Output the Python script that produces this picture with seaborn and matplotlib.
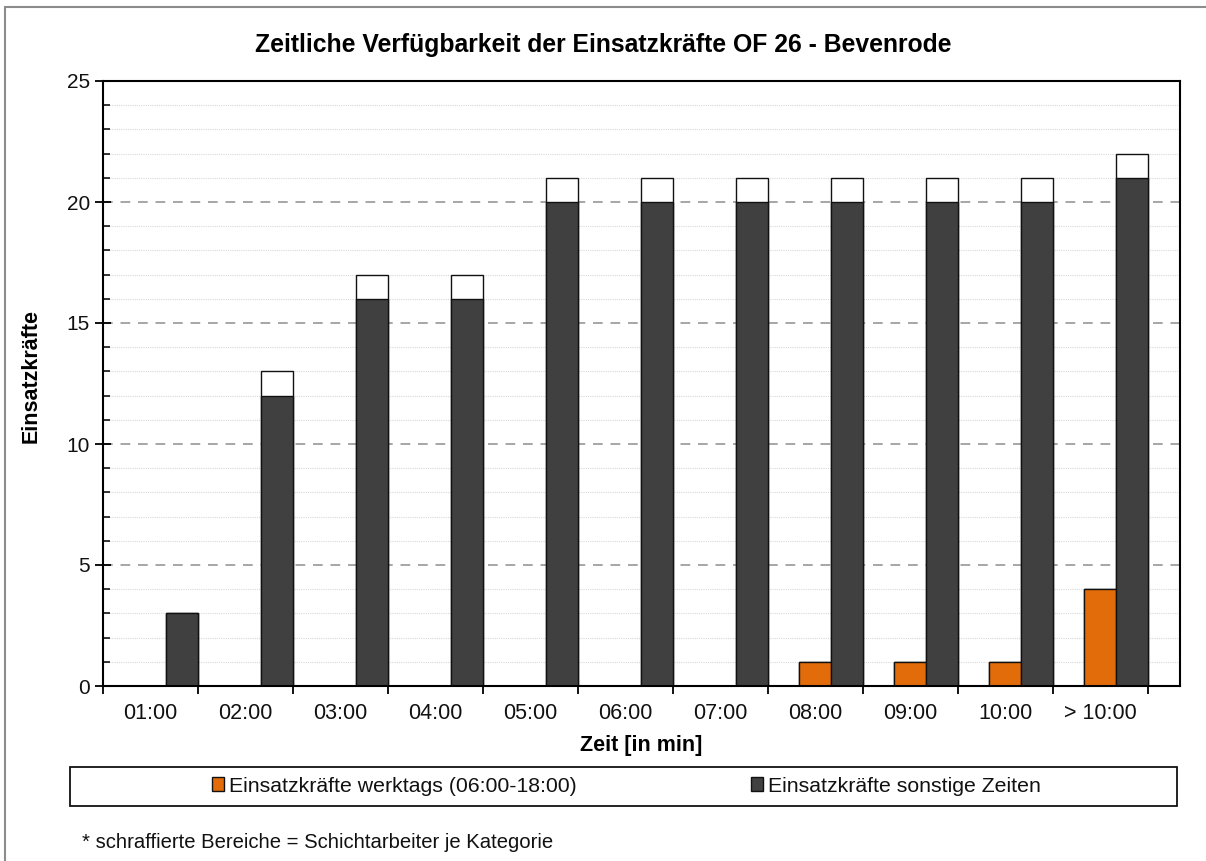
import matplotlib
matplotlib.use("Agg")
import matplotlib.pyplot as plt
from matplotlib.patches import Rectangle, Patch
from matplotlib.lines import Line2D
from matplotlib.ticker import MultipleLocator
import pandas as pd
import seaborn as sns

# data
zeiten = ["01:00", "02:00", "03:00", "04:00", "05:00", "06:00",
          "07:00", "08:00", "09:00", "10:00", "> 10:00"]
werktags = [0, 0, 0, 0, 0, 0, 0, 1, 1, 1, 4]
werktags_schicht = [0, 0, 0, 0, 0, 0, 0, 0, 0, 0, 0]
sonstige = [3, 12, 16, 16, 20, 20, 20, 20, 20, 20, 21]
sonstige_schicht = [0, 1, 1, 1, 1, 1, 1, 1, 1, 1, 1]

reihen = ["leer", "Einsatzkräfte werktags (06:00-18:00)", "Einsatzkräfte sonstige Zeiten"]
orange = "#E36C0A"
dunkel = "#404040"

rows = []
for i, z in enumerate(zeiten):
    rows.append((z, reihen[0], 0, 0))
    rows.append((z, reihen[1], werktags[i], werktags[i] + werktags_schicht[i]))
    rows.append((z, reihen[2], sonstige[i], sonstige[i] + sonstige_schicht[i]))
df = pd.DataFrame(rows, columns=["Zeit", "Reihe", "Basis", "Gesamt"])

sns.set_theme(style="white")
plt.rcParams["font.family"] = ["Liberation Sans", "DejaVu Sans"]
plt.rcParams["text.color"] = "black"
plt.rcParams["axes.labelcolor"] = "black"

fig = plt.figure(figsize=(12.06, 8.61), dpi=100)
ax = fig.add_axes([103 / 1206, 1 - 686 / 861, (1180 - 103) / 1206, (686 - 81) / 861])

# totals (white = Schichtarbeiter part), then base bars on top
sns.barplot(data=df, x="Zeit", y="Gesamt", hue="Reihe", hue_order=reihen,
            palette=["white", "white", "white"], width=1, gap=0, dodge=True, saturation=1,
            edgecolor="#111111", linewidth=1, errorbar=None, legend=False, ax=ax)
sns.barplot(data=df, x="Zeit", y="Basis", hue="Reihe", hue_order=reihen,
            palette=["white", orange, dunkel], width=1, gap=0, dodge=True, saturation=1,
            edgecolor="#111111", linewidth=1, errorbar=None, legend=False, ax=ax)

ax.set_ylim(0, 25)
ax.set_xlim(-0.5, 10.84)
ax.yaxis.set_major_locator(MultipleLocator(5))
ax.yaxis.set_minor_locator(MultipleLocator(1))
ax.set_axisbelow(True)
ax.grid(False)
ax.yaxis.grid(True, which="major", linestyle=(0, (5, 4)), color="#A6A6A6", linewidth=1.4)
ax.yaxis.grid(True, which="minor", linestyle=(0, (1, 1)), color="#D9D9D9", linewidth=0.8)

# category boundaries as ticks, labels in the middle
ax.set_xticks([i - 0.5 for i in range(len(zeiten) + 1)])
ax.set_xticklabels([])
ax.set_xticks(range(len(zeiten)), minor=True)
ax.set_xticklabels(zeiten, minor=True)
ax.tick_params(axis="x", which="major", direction="out", length=6, width=1.3, color="black")
ax.tick_params(axis="x", which="minor", length=0, pad=12, labelsize=15.5, labelcolor="#111111")
ax.tick_params(axis="y", which="major", direction="inout", length=11, width=1.3,
               color="black", labelsize=15, labelcolor="#111111", pad=4)
ax.tick_params(axis="y", which="minor", direction="in", length=5, width=1.1, color="black")
ax.tick_params(left=True, bottom=True, which="both")

for s in ax.spines.values():
    s.set_visible(True)
    s.set_color("black")
    s.set_linewidth(1.5)

ax.set_xlabel("Zeit [in min]", fontsize=15.5, fontweight="bold", labelpad=8)
ax.set_ylabel("")
fig.text(31 / 1206, 1 - 376 / 861, "Einsatzkräfte", rotation=90, ha="center", va="center",
         fontsize=15.5, fontweight="bold")

fig.text(0.5, 1 - 45 / 861, "Zeitliche Verfügbarkeit der Einsatzkräfte OF 26 - Bevenrode",
         ha="center", va="center", fontsize=17.8, fontweight="bold")

# legend with its own frame
handles = [Patch(facecolor=orange, edgecolor="#111111", linewidth=1),
           Patch(facecolor=dunkel, edgecolor="#111111", linewidth=1)]
fig.legend(handles, reihen[1:], loc="center", bbox_to_anchor=(626 / 1206, 1 - 786 / 861),
           ncol=2, frameon=False, fontsize=15.3, handlelength=0.6, handleheight=0.6,
           handletextpad=0.2, columnspacing=8.2, labelcolor="#111111")
fig.add_artist(Rectangle((70 / 1206, 1 - 806 / 861), (1177 - 70) / 1206, 39 / 861,
                         transform=fig.transFigure, fill=False, edgecolor="#111111", linewidth=1.3))

fig.text(82 / 1206, 1 - 843 / 861, "* schraffierte Bereiche = Schichtarbeiter je Kategorie",
         ha="left", va="center", fontsize=14.6, color="#111111")

# outer chart frame (left and top edge visible)
fig.add_artist(Line2D([5 / 1206, 5 / 1206], [0, 1 - 7 / 861], transform=fig.transFigure,
                      color="#8C8C8C", linewidth=1.5))
fig.add_artist(Line2D([5 / 1206, 1], [1 - 7 / 861, 1 - 7 / 861], transform=fig.transFigure,
                      color="#8C8C8C", linewidth=1.5))

fig.savefig("out.png", dpi=100)
